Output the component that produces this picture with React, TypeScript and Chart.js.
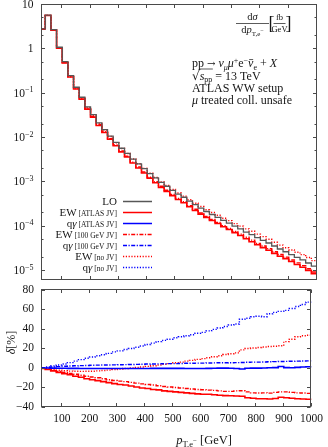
import React, { useEffect, useRef } from "react";
import { Chart, registerables } from "chart.js";

Chart.register(...registerables);

// ---------- data ----------
const BIN_EDGES = [25, 40, 60, 80, 100, 120, 140, 160, 180, 200, 220, 240, 260, 280, 300, 320, 340, 360, 380, 400, 420, 440, 460, 480, 500, 520, 540, 560, 580, 600, 620, 640, 660, 680, 700, 720, 740, 760, 780, 800, 820, 840, 860, 880, 900, 920, 940, 960, 980, 1000];

// LO differential cross section [fb/GeV] per bin
const LO_XS = [2.75, 5.6, 2.65, 1.06, 0.5, 0.243, 0.133, 0.079, 0.048, 0.032, 0.021, 0.0148, 0.0105, 0.0076, 0.0056, 0.0043, 0.0032, 0.0025, 0.00195, 0.0015, 0.0012, 9.5e-4, 7.8e-4, 6.3e-4, 5.2e-4, 4.4e-4, 3.6e-4, 3.0e-4, 2.5e-4, 2.1e-4, 1.8e-4, 1.55e-4, 1.32e-4, 1.15e-4, 9.8e-5, 8.5e-5, 7.2e-5, 6.3e-5, 5.4e-5, 4.7e-5, 4.1e-5, 3.5e-5, 3.0e-5, 2.6e-5, 2.25e-5, 1.95e-5, 1.7e-5, 1.45e-5, 1.23e-5];

// relative corrections delta [%]
const EW_ATLAS_JV = [-0.5, -1.5, -3, -4.5, -6, -7, -8.5, -9.5, -11, -12, -13, -14, -15, -16, -17, -17.5, -18.5, -19.5, -20.5, -21, -22, -22.5, -23.5, -24, -24.5, -25, -25.5, -26, -26.5, -27, -27, -27.5, -28, -28.3, -28.5, -28.8, -29, -30.5, -31, -31.5, -31.5, -31.8, -31.3, -30, -30.5, -31, -31.5, -31.8, -32];
const EW_100_JV = [-0.3, -1, -2.5, -3.5, -4.5, -5.5, -6.5, -7.5, -8.5, -9.3, -10, -11, -12, -12.8, -13.5, -14, -14.8, -15.5, -16.3, -17, -17.5, -18.3, -19, -19.5, -20, -20.5, -21, -21.5, -22, -22.3, -22.7, -23, -23.5, -24, -24, -23.5, -23.3, -24.5, -25.5, -25.7, -25.5, -25.8, -25, -24.5, -24.5, -25, -25.5, -25.7, -26];
const EW_NO_JV = [-0.3, -1, -1.8, -2.3, -2.8, -3.2, -3.4, -3.5, -3.4, -3.3, -3, -2.6, -2.2, -1.6, -1, -0.6, 0, 0.5, 1, 1.6, 2.3, 3, 3.7, 4.5, 5.3, 6, 7, 7.8, 8.8, 9.6, 10.5, 11.5, 12.5, 13.8, 14.5, 15.5, 18.5, 20, 20.5, 21, 21.5, 22, 22.3, 22.7, 27, 29.5, 32, 33, 33.5];
const QG_ATLAS_JV = [0, 0, -0.2, -0.3, -0.3, -0.4, -0.4, -0.5, -0.5, -0.5, -0.5, -0.5, -0.5, -0.5, -0.5, -0.5, -0.5, -0.5, -0.5, -0.5, -0.4, -0.4, -0.4, -0.4, -0.4, -0.4, -0.5, -0.5, -0.5, -0.5, -0.4, -0.3, -0.2, -0.2, -0.3, -0.5, -1, -0.3, -0.2, -0.2, 0, 0.2, 0.3, 1.5, 0.3, 0.2, 0.6, 1, 1.2];
const QG_100_JV = [0.2, 0.5, 1, 1.4, 1.7, 2, 2.2, 2.4, 2.6, 2.8, 2.9, 3, 3.1, 3.2, 3.3, 3.4, 3.6, 3.7, 3.8, 4, 4.1, 4.2, 4.3, 4.4, 4.5, 4.6, 4.8, 4.9, 5, 5, 5.1, 5.2, 5.3, 5.3, 5.4, 5.5, 5.6, 5.8, 6, 6, 6.1, 6.3, 6.5, 6.7, 6.8, 6.9, 7, 7.2, 7.3];
const QG_NO_JV = [0.3, 1, 2, 3, 4, 5.5, 7, 8.5, 10, 11.3, 12.5, 13.5, 15, 16.5, 17.5, 19, 20, 21.3, 22.5, 24, 25.5, 27, 28.3, 29.5, 31, 32, 33, 34, 35.5, 36.5, 38, 39.5, 41, 42.5, 44, 45, 50, 51, 52.5, 53, 52.5, 55.5, 57, 58, 59, 61, 63, 65, 67.5];

const X_TICKS = [100, 200, 300, 400, 500, 600, 700, 800, 900, 1000];
const LOG_EXPONENTS = [1, 0, -1, -2, -3, -4, -5];
const RATIO_TICKS = [-40, -20, 0, 20, 40, 60, 80];

// ---------- styles ----------
const FONT = "'Liberation Serif', 'DejaVu Serif', serif";
const TXT = "#141414";
const FRAME = "#4a4a4a";
const LO_COL = "#575757";
const RED = "#ff0000";
const BLUE = "#0000ff";
const DASHDOT = [4, 1.5, 1.2, 1.5];
const DOTTED = [1.2, 1.6];

type Seg = { t: string; s: number; dy?: number; it?: boolean; bar?: boolean; f?: string };
const fontOf = (g: Seg) => `${g.it ? "italic " : ""}${g.s}px ${g.f || FONT}`;

function measure(ctx: CanvasRenderingContext2D, segs: Seg[]) {
  let w = 0;
  for (const g of segs) {
    ctx.font = fontOf(g);
    w += ctx.measureText(g.t).width;
  }
  return w;
}

function drawSegs(ctx: CanvasRenderingContext2D, segs: Seg[], x: number, y: number, align: "left" | "right" | "center" = "left") {
  const total = measure(ctx, segs);
  let cx = align === "left" ? x : align === "right" ? x - total : x - total / 2;
  ctx.textAlign = "left";
  ctx.textBaseline = "alphabetic";
  for (const g of segs) {
    ctx.font = fontOf(g);
    const w = ctx.measureText(g.t).width;
    ctx.fillText(g.t, cx, y + (g.dy || 0));
    if (g.bar) {
      ctx.save();
      ctx.strokeStyle = ctx.fillStyle as string;
      ctx.lineWidth = 0.7;
      ctx.beginPath();
      ctx.moveTo(cx + w * 0.2, y + (g.dy || 0) - g.s * 0.62);
      ctx.lineTo(cx + w * 0.95, y + (g.dy || 0) - g.s * 0.62);
      ctx.stroke();
      ctx.restore();
    }
    cx += w;
  }
  return total;
}

function stepData(values: number[]) {
  const pts = values.map((v, i) => ({ x: BIN_EDGES[i], y: v }));
  pts.push({ x: BIN_EDGES[values.length], y: values[values.length - 1] });
  return pts;
}

const scaled = (delta: number[]) => LO_XS.map((v, i) => v * (1 + delta[i] / 100));

function drawFrame(ctx: CanvasRenderingContext2D, a: any) {
  ctx.strokeStyle = FRAME;
  ctx.lineWidth = 1;
  const L = Math.floor(a.left) + 0.5;
  const R = Math.floor(a.right) - 0.5;
  const T = Math.floor(a.top) + 0.5;
  const B = Math.floor(a.bottom) - 0.5;
  ctx.strokeRect(L, T, R - L, B - T);
  return { L, R, T, B };
}

const legendRows: { segs: Seg[]; color: string; dash: number[] }[] = [
  { segs: [{ t: "LO", s: 11 }], color: LO_COL, dash: [] },
  { segs: [{ t: "EW", s: 11 }, { t: " [ATLAS JV]", s: 7.5 }], color: RED, dash: [] },
  { segs: [{ t: "q", s: 11 }, { t: "γ", s: 11, it: true }, { t: " [ATLAS JV]", s: 7.5 }], color: BLUE, dash: [] },
  { segs: [{ t: "EW", s: 11 }, { t: " [100 GeV JV]", s: 7.5 }], color: RED, dash: DASHDOT },
  { segs: [{ t: "q", s: 11 }, { t: "γ", s: 11, it: true }, { t: " [100 GeV JV]", s: 7.5 }], color: BLUE, dash: DASHDOT },
  { segs: [{ t: "EW", s: 11 }, { t: " [no JV]", s: 7.5 }], color: RED, dash: DOTTED },
  { segs: [{ t: "q", s: 11 }, { t: "γ", s: 11, it: true }, { t: " [no JV]", s: 7.5 }], color: BLUE, dash: DOTTED },
];

const topDeco = {
  id: "topDeco",
  afterDraw(chart: any) {
    const { ctx, chartArea: a, scales } = chart;
    const xs = scales.x;
    const ys = scales.y;
    ctx.save();
    const { L, R, T, B } = drawFrame(ctx, a);
    ctx.beginPath();
    for (const v of X_TICKS) {
      const px = Math.round(xs.getPixelForValue(v)) - 0.5;
      ctx.moveTo(px, B); ctx.lineTo(px, B - 3.5);
      ctx.moveTo(px, T); ctx.lineTo(px, T + 3.5);
    }
    for (const k of LOG_EXPONENTS) {
      const py = Math.round(ys.getPixelForValue(Math.pow(10, k))) + 0.5;
      ctx.moveTo(L, py); ctx.lineTo(L + 3.5, py);
      ctx.moveTo(R, py); ctx.lineTo(R - 3.5, py);
    }
    for (let k = -6; k <= 0; k++) {
      for (const m of [2, 5]) {
        const v = m * Math.pow(10, k);
        if (v < ys.min || v > ys.max) continue;
        const py = Math.round(ys.getPixelForValue(v)) + 0.5;
        ctx.moveTo(L, py); ctx.lineTo(L + 2, py);
        ctx.moveTo(R, py); ctx.lineTo(R - 2, py);
      }
    }
    ctx.stroke();

    // y tick labels
    ctx.fillStyle = TXT;
    for (const k of LOG_EXPONENTS) {
      const py = ys.getPixelForValue(Math.pow(10, k));
      let segs: Seg[];
      if (k === 1) segs = [{ t: "10", s: 11.5 }];
      else if (k === 0) segs = [{ t: "1", s: 11.5 }];
      else segs = [{ t: "10", s: 11.5 }, { t: "−" + Math.abs(k), s: 8, dy: -4.5 }];
      drawSegs(ctx, segs, 33.5, py + 4, "right");
    }

    // annotation: d sigma / d pT  [fb / GeV]
    drawSegs(ctx, [{ t: "d", s: 10.5 }, { t: "σ", s: 10.5, it: true }], 252.5, 20, "center");
    ctx.lineWidth = 0.7;
    ctx.strokeStyle = TXT;
    ctx.beginPath(); ctx.moveTo(236, 23.5); ctx.lineTo(269, 23.5); ctx.stroke();
    drawSegs(ctx, [{ t: "d", s: 10.5 }, { t: "p", s: 10.5, it: true }, { t: "T,e", s: 7, dy: 2.5 }, { t: "−", s: 6, dy: -1 }], 252.5, 33, "center");
    drawSegs(ctx, [{ t: "[", s: 18 }], 268.5, 29, "left");
    drawSegs(ctx, [{ t: "fb", s: 8.5 }], 279.5, 20, "center");
    ctx.beginPath(); ctx.moveTo(273.5, 23.5); ctx.lineTo(285.5, 23.5); ctx.stroke();
    drawSegs(ctx, [{ t: "GeV", s: 8.5 }], 279.5, 31.5, "center");
    drawSegs(ctx, [{ t: "]", s: 18 }], 285.5, 29, "left");

    // process line
    drawSegs(ctx, [
      { t: "pp ", s: 12 }, { t: "→", s: 10, f: "'DejaVu Serif', serif", dy: -0.5 }, { t: " ", s: 12 },
      { t: "ν", s: 12, it: true }, { t: "μ", s: 8, it: true, dy: 2.5 },
      { t: "μ", s: 12, it: true }, { t: "+", s: 8, dy: -4.5 }, { t: "e", s: 12 }, { t: "−", s: 8, dy: -4.5 },
      { t: "ν", s: 12, it: true, bar: true }, { t: "e", s: 8, dy: 2.5 }, { t: " + ", s: 12 }, { t: "X", s: 12, it: true },
    ], 192, 67);

    // sqrt s line
    {
      let x = 192;
      const y = 79.5;
      x += drawSegs(ctx, [{ t: "√", s: 12, f: "'DejaVu Serif', serif" }], x, y);
      const ov0 = x;
      x += drawSegs(ctx, [{ t: "s", s: 12, it: true }, { t: "pp", s: 8, dy: 2.5 }], x, y);
      ctx.lineWidth = 0.7;
      ctx.beginPath(); ctx.moveTo(ov0 - 0.5, y - 10.5); ctx.lineTo(x + 0.5, y - 10.5); ctx.stroke();
      drawSegs(ctx, [{ t: " = 13 TeV", s: 12 }], x, y);
    }
    drawSegs(ctx, [{ t: "ATLAS WW setup", s: 12 }], 192, 91.5);
    drawSegs(ctx, [{ t: "μ", s: 12, it: true }, { t: " treated coll. unsafe", s: 12 }], 192, 103.5);

    // legend
    legendRows.forEach((row, i) => {
      const cy = 201 + i * 11;
      drawSegs(ctx, row.segs, 117, cy + 4, "right");
      ctx.save();
      ctx.strokeStyle = row.color;
      ctx.lineWidth = 1.5;
      ctx.setLineDash(row.dash);
      ctx.beginPath(); ctx.moveTo(123, cy + 0.5); ctx.lineTo(152, cy + 0.5); ctx.stroke();
      ctx.restore();
    });
    ctx.restore();
  },
};

const botDeco = {
  id: "botDeco",
  afterDraw(chart: any) {
    const { ctx, chartArea: a, scales } = chart;
    const xs = scales.x;
    const ys = scales.y;
    ctx.save();
    const { L, R, T, B } = drawFrame(ctx, a);
    ctx.beginPath();
    for (const v of X_TICKS) {
      const px = Math.round(xs.getPixelForValue(v)) - 0.5;
      ctx.moveTo(px, B); ctx.lineTo(px, B - 3.5);
      ctx.moveTo(px, T); ctx.lineTo(px, T + 3.5);
    }
    for (const v of RATIO_TICKS) {
      const py = Math.round(ys.getPixelForValue(v)) + 0.5;
      ctx.moveTo(L, py); ctx.lineTo(L + 3.5, py);
      ctx.moveTo(R, py); ctx.lineTo(R - 3.5, py);
    }
    ctx.stroke();

    ctx.fillStyle = TXT;
    // y title, rotated
    ctx.save();
    ctx.translate(15, (a.top + a.bottom) / 2 - 6);
    ctx.rotate(-Math.PI / 2);
    drawSegs(ctx, [{ t: "δ", s: 12, it: true }, { t: "[%]", s: 12 }], 0, 0, "center");
    ctx.restore();
    // x title
    drawSegs(ctx, [
      { t: "p", s: 12.5, it: true }, { t: "T,e", s: 8.5, dy: 3 }, { t: "−", s: 7, dy: -1 }, { t: " [GeV]", s: 12.5 },
    ], (a.left + a.right) / 2, 168);
    ctx.restore();
  },
};

function lineDs(label: string, values: number[], color: string, dash: number[], width = 1.5) {
  return {
    label,
    data: stepData(values),
    borderColor: color,
    backgroundColor: color,
    borderWidth: width,
    borderDash: dash,
    stepped: true,
    fill: false,
    pointRadius: 0,
    pointHoverRadius: 0,
  };
}

export default function App() {
  const topRef = useRef<HTMLCanvasElement>(null);
  const botRef = useRef<HTMLCanvasElement>(null);

  useEffect(() => {
    const top = new Chart(topRef.current as HTMLCanvasElement, {
      type: "line",
      data: {
        datasets: [
          lineDs("LO", LO_XS, LO_COL, [], 1.3),
          lineDs("EW [ATLAS JV]", scaled(EW_ATLAS_JV), RED, [], 1.6),
          lineDs("EW [100 GeV JV]", scaled(EW_100_JV), RED, DASHDOT, 1.4),
          lineDs("EW [no JV]", scaled(EW_NO_JV), RED, DOTTED, 1.4),
        ] as any,
      },
      options: {
        animation: false,
        responsive: false,
        events: [],
        layout: { padding: { top: 4, right: 11, bottom: 4, left: 0 } },
        plugins: { legend: { display: false }, tooltip: { enabled: false } },
        scales: {
          x: { type: "linear", min: 25, max: 1000, display: false },
          y: {
            type: "logarithmic",
            min: 6e-6,
            max: 10,
            grid: { display: false, drawTicks: false },
            border: { display: false },
            ticks: { display: false },
            afterFit: (s: any) => { s.width = 41; },
          },
        },
      } as any,
      plugins: [topDeco],
    });

    const bot = new Chart(botRef.current as HTMLCanvasElement, {
      type: "line",
      data: {
        datasets: [
          lineDs("qγ [ATLAS JV]", QG_ATLAS_JV, BLUE, [], 1.6),
          lineDs("qγ [100 GeV JV]", QG_100_JV, BLUE, DASHDOT, 1.4),
          lineDs("qγ [no JV]", QG_NO_JV, BLUE, DOTTED, 1.4),
          lineDs("EW [ATLAS JV]", EW_ATLAS_JV, RED, [], 1.6),
          lineDs("EW [100 GeV JV]", EW_100_JV, RED, DASHDOT, 1.4),
          lineDs("EW [no JV]", EW_NO_JV, RED, DOTTED, 1.4),
        ] as any,
      },
      options: {
        animation: false,
        responsive: false,
        events: [],
        layout: { padding: { top: 12, right: 11, bottom: 0, left: 0 } },
        plugins: { legend: { display: false }, tooltip: { enabled: false } },
        scales: {
          x: {
            type: "linear",
            min: 25,
            max: 1000,
            grid: { display: false, drawTicks: false },
            border: { display: false },
            afterBuildTicks: (s: any) => { s.ticks = X_TICKS.map((v) => ({ value: v })); },
            ticks: {
              autoSkip: false,
              maxRotation: 0,
              padding: 5,
              color: TXT,
              font: { family: FONT, size: 11.5 },
              callback: (v: any) => String(v),
            },
            afterFit: (s: any) => { s.height = 40; },
          },
          y: {
            type: "linear",
            min: -40,
            max: 80,
            grid: { display: false, drawTicks: false },
            border: { display: false },
            afterBuildTicks: (s: any) => { s.ticks = RATIO_TICKS.map((v) => ({ value: v })); },
            ticks: {
              padding: 7,
              color: TXT,
              font: { family: FONT, size: 11.5 },
              callback: (v: any) => String(v).replace("-", "−"),
            },
            afterFit: (s: any) => { s.width = 41; },
          },
        },
      } as any,
      plugins: [botDeco],
    });

    return () => {
      top.destroy();
      bot.destroy();
    };
  }, []);

  return (
    <div style={{ position: "absolute", left: 0, top: 0, width: 328, height: 447, background: "#ffffff" }}>
      <canvas ref={topRef} width={328} height={284} style={{ position: "absolute", left: 0, top: 0 }} />
      <canvas ref={botRef} width={328} height={171} style={{ position: "absolute", left: 0, top: 276 }} />
    </div>
  );
}
